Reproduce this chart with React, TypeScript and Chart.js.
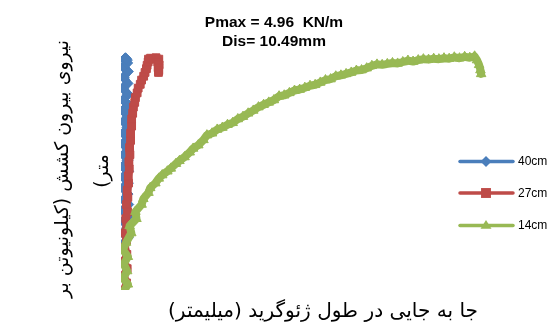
import React, { useEffect, useRef } from 'react';
import { Chart, registerables } from 'chart.js';

Chart.register(...registerables);

const seriesLabels = ['40cm', '27cm', '14cm'];
const seriesColors = ['#4A7EBB', '#BE4B48', '#98B954'];

const titleLines = ['Pmax = 4.96  KN/m', 'Dis= 10.49mm'];
const xTitle = 'جا به جایی در طول ژئوگرید (میلیمتر)';
const yTitleLines = ['نیروی بیرون کشش (کیلونیوتن بر', 'متر)'];

// 40cm (displacement mm, force kN/m)
const blueDisp = [0.08, 0.2, 0.06, 0.19, 0.07, 0.2, 0.06, 0.21, 0.08, 0.19, 0.06, 0.2, 0.07, 0.21, 0.06, 0.19, 0.08, 0.2, 0.06, 0.21, 0.07, 0.19, 0.08, 0.2, 0.06, 0.21, 0.07, 0.2, 0.06, 0.19, 0.08, 0.2, 0.07, 0.18, 0.1, 0.13, 0.17, 0.14];
const blueForce = [0.98, 1.1, 1.2, 1.32, 1.45, 1.55, 1.68, 1.8, 1.9, 2.02, 2.15, 2.25, 2.38, 2.5, 2.6, 2.72, 2.85, 2.95, 3.08, 3.2, 3.3, 3.42, 3.55, 3.65, 3.78, 3.9, 4.0, 4.12, 4.25, 4.35, 4.48, 4.6, 4.7, 4.78, 4.86, 4.88, 4.84, 4.87];

// 27cm
const redDisp = [0.1, 0.16, 0.08, 0.18, 0.09, 0.17, 0.11, 0.16, 0.12, 0.17, 0.14, 0.19, 0.16, 0.2, 0.18, 0.22, 0.21, 0.24, 0.23, 0.26, 0.25, 0.28, 0.28, 0.31, 0.31, 0.34, 0.36, 0.4, 0.42, 0.47, 0.5, 0.56, 0.6, 0.66, 0.7, 0.74, 0.76, 0.79, 0.8, 0.86, 0.94, 1.02, 1.1, 1.07, 1.11, 1.08, 1.1, 1.09];
const redForce = [0, 0.15, 0.3, 0.45, 0.6, 0.75, 0.9, 1.05, 1.2, 1.35, 1.5, 1.65, 1.8, 1.95, 2.1, 2.25, 2.4, 2.55, 2.7, 2.85, 3.0, 3.15, 3.3, 3.45, 3.6, 3.72, 3.85, 3.95, 4.05, 4.15, 4.25, 4.33, 4.42, 4.5, 4.58, 4.66, 4.73, 4.8, 4.86, 4.88, 4.86, 4.89, 4.86, 4.8, 4.74, 4.68, 4.62, 4.58];

// 14cm
const greenDisp = [0.1, 0.2, 0.06, 0.18, 0.08, 0.2, 0.06, 0.15, 0.3, 0.25, 0.45, 0.42, 0.6, 0.65, 0.8, 0.85, 1.0, 1.1, 1.2, 1.35, 1.45, 1.6, 1.7, 1.85, 2.0, 2.1, 2.25, 2.4, 2.5, 2.65, 2.8, 2.95, 3.1, 3.25, 3.4, 3.55, 3.7, 3.85, 4.0, 4.15, 4.3, 4.45, 4.6, 4.75, 4.9, 5.05, 5.2, 5.35, 5.5, 5.65, 5.8, 5.95, 6.1, 6.25, 6.4, 6.55, 6.7, 6.85, 7.0, 7.15, 7.3, 7.45, 7.6, 7.75, 7.9, 8.05, 8.2, 8.35, 8.5, 8.65, 8.8, 8.95, 9.1, 9.25, 9.4, 9.55, 9.7, 9.85, 10.0, 10.15, 10.29, 10.36, 10.42, 10.46, 10.48];
const greenForce = [0, 0.12, 0.25, 0.4, 0.55, 0.7, 0.85, 1.0, 1.2, 1.35, 1.5, 1.65, 1.8, 1.92, 2.05, 2.15, 2.25, 2.35, 2.42, 2.5, 2.56, 2.66, 2.72, 2.8, 2.9, 2.98, 3.05, 3.16, 3.26, 3.3, 3.38, 3.42, 3.48, 3.52, 3.6, 3.65, 3.72, 3.78, 3.85, 3.9, 3.95, 4.0, 4.08, 4.1, 4.15, 4.2, 4.22, 4.26, 4.3, 4.32, 4.37, 4.42, 4.44, 4.5, 4.52, 4.55, 4.58, 4.62, 4.63, 4.67, 4.72, 4.75, 4.74, 4.76, 4.78, 4.77, 4.8, 4.83, 4.81, 4.84, 4.86, 4.85, 4.87, 4.86, 4.88, 4.87, 4.9, 4.88, 4.91, 4.89, 4.92, 4.84, 4.74, 4.63, 4.55];

const xMin = 0;
const xMax = 11;
const yMin = 0;
const yMax = 5.2;

const pointStyles = ['rectRot', 'rect', 'triangle'];

function drawMarker(ctx: CanvasRenderingContext2D, style: string, x: number, y: number, r: number) {
  ctx.beginPath();
  if (style === 'rectRot') {
    ctx.moveTo(x, y - r);
    ctx.lineTo(x + r, y);
    ctx.lineTo(x, y + r);
    ctx.lineTo(x - r, y);
  } else if (style === 'rect') {
    ctx.rect(x - r * 0.9, y - r * 0.9, r * 1.8, r * 1.8);
  } else {
    ctx.moveTo(x, y - r);
    ctx.lineTo(x + r, y + r * 0.6);
    ctx.lineTo(x - r, y + r * 0.6);
  }
  ctx.closePath();
  ctx.fill();
}

function fitFont(ctx: CanvasRenderingContext2D, text: string, width: number, family: string) {
  ctx.font = `20px ${family}`;
  const w = ctx.measureText(text).width;
  const size = (20 * width) / w;
  ctx.font = `${size.toFixed(2)}px ${family}`;
}

const arabicFamily = '"DejaVu Sans", sans-serif';

const overlayPlugin = {
  id: 'overlay',
  afterDraw(chart: any) {
    const ctx: CanvasRenderingContext2D = chart.ctx;
    ctx.save();
    // Title
    ctx.fillStyle = '#000';
    ctx.textAlign = 'center';
    ctx.textBaseline = 'alphabetic';
    ctx.font = 'bold 15.5px "Liberation Sans", Arial, sans-serif';
    ctx.fillText(titleLines[0], 274, 27);
    ctx.fillText(titleLines[1], 274, 45.5);

    // X title
    ctx.direction = 'rtl';
    ctx.textBaseline = 'middle';
    fitFont(ctx, xTitle, 310, arabicFamily);
    ctx.fillText(xTitle, 323, 312);

    // Y title (rotated)
    fitFont(ctx, yTitleLines[0], 258, arabicFamily);
    ctx.save();
    ctx.translate(63, 169);
    ctx.rotate(-Math.PI / 2);
    ctx.fillText(yTitleLines[0], 0, 0);
    ctx.restore();
    ctx.save();
    ctx.translate(103, 171);
    ctx.rotate(-Math.PI / 2);
    ctx.fillText(yTitleLines[1], 0, 0);
    ctx.restore();
    ctx.direction = 'ltr';

    // Legend
    const ys = [161.5, 193, 225.5];
    ctx.textAlign = 'left';
    ctx.font = '12px "Liberation Sans", Arial, sans-serif';
    seriesLabels.forEach((lab, i) => {
      const y = ys[i];
      ctx.strokeStyle = seriesColors[i];
      ctx.fillStyle = seriesColors[i];
      ctx.lineWidth = 3.5;
      ctx.lineCap = 'round';
      ctx.beginPath();
      ctx.moveTo(460, y);
      ctx.lineTo(513, y);
      ctx.stroke();
      drawMarker(ctx, pointStyles[i], 486, y, 5.5);
      ctx.fillStyle = '#000';
      ctx.fillText(lab, 518, y + 0.5);
    });
    ctx.restore();
  },
};

function makeData(xs: number[], ys: number[]) {
  return xs.map((x, i) => ({ x, y: ys[i] }));
}

export default function App() {
  const ref = useRef<HTMLCanvasElement>(null);
  useEffect(() => {
    if (!ref.current) return;
    const series = [
      makeData(blueDisp, blueForce),
      makeData(redDisp, redForce),
      makeData(greenDisp, greenForce),
    ];
    const chart = new Chart(ref.current, {
      type: 'line',
      data: {
        datasets: series.map((d, i) => ({
          label: seriesLabels[i],
          data: d,
          borderColor: seriesColors[i],
          backgroundColor: seriesColors[i],
          borderWidth: 8,
          borderJoinStyle: 'round' as const,
          borderCapStyle: 'round' as const,
          pointStyle: pointStyles[i] as any,
          pointRadius: 5.5,
          pointBorderWidth: 1,
          pointHoverRadius: 5.5,
          tension: 0,
          fill: false,
          order: 3 - i,
        })),
      },
      options: {
        responsive: false,
        animation: false,
        devicePixelRatio: 1,
        layout: { padding: { left: 121, right: 48, top: 43, bottom: 40 } },
        scales: {
          x: { type: 'linear', min: xMin, max: xMax, display: false },
          y: { type: 'linear', min: yMin, max: yMax, display: false },
        },
        plugins: {
          legend: { display: false },
          title: { display: false },
          tooltip: { enabled: false },
        },
      },
      plugins: [overlayPlugin],
    });
    return () => chart.destroy();
  }, []);
  return (
    <div style={{ position: 'absolute', left: 0, top: 0, width: 547, height: 330, background: '#fff' }}>
      <canvas ref={ref} width={547} height={330} />
    </div>
  );
}
